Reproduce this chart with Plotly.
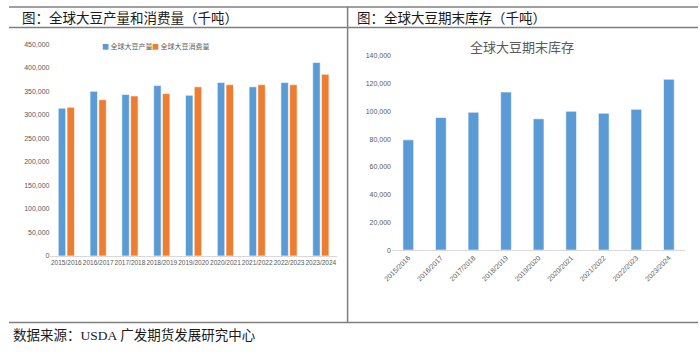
import plotly.graph_objects as go

# ---------------- data ----------------
seasons = ["2015/2016", "2016/2017", "2017/2018", "2018/2019", "2019/2020",
           "2020/2021", "2021/2022", "2022/2023", "2023/2024"]
production = [314000, 350000, 343000, 362000, 341500, 368500, 359500, 368500, 411000]
consumption = [316000, 332000, 340000, 345000, 359500, 364000, 364000, 364000, 386000]
ending_stocks = [79500, 95600, 99400, 114000, 94700, 100100, 98700, 101500, 123200]

left_ticks = list(range(0, 450001, 50000))
right_ticks = list(range(0, 140001, 20000))

BLUE = "#5B9BD5"
ORANGE = "#ED7D31"
GRAY_TXT = "#595959"
AXIS = "#D9D9D9"
W, H = 700, 356

def px(x):
    return x / W

def py(y):
    return 1 - y / H

fig = go.Figure()

fig.add_trace(go.Bar(
    x=seasons, y=production, name="全球大豆产量",
    marker=dict(color=BLUE, line=dict(color="rgba(255,255,255,0.6)", width=1)),
    offset=-0.255, width=0.235, xaxis="x", yaxis="y", showlegend=False))
fig.add_trace(go.Bar(
    x=seasons, y=consumption, name="全球大豆消费量",
    marker=dict(color=ORANGE, line=dict(color="rgba(255,255,255,0.6)", width=1)),
    offset=0.02, width=0.235, xaxis="x", yaxis="y", showlegend=False))
fig.add_trace(go.Bar(
    x=seasons, y=ending_stocks, name="全球大豆期末库存",
    marker=dict(color=BLUE, line=dict(color="rgba(255,255,255,0.6)", width=1)),
    width=0.33, xaxis="x2", yaxis="y2", showlegend=False))

tickfont = dict(family="Liberation Sans, Arial, sans-serif", size=7, color=GRAY_TXT)

fig.update_layout(
    width=W, height=H,
    margin=dict(l=0, r=0, t=0, b=0),
    paper_bgcolor="white", plot_bgcolor="white",
    barmode="overlay",
    xaxis=dict(domain=[px(42), px(332)], anchor="y", type="category",
               showline=True, linecolor=AXIS, linewidth=1, ticks="",
               showgrid=False, tickfont=dict(tickfont, size=6.5), tickangle=0),
    yaxis=dict(domain=[py(257), py(41)], anchor="x", range=[0, 450000],
               tickvals=left_ticks, tickformat=",d", showgrid=False,
               zeroline=False, showline=False, ticks="", tickfont=tickfont),
    xaxis2=dict(domain=[px(388), px(685)], anchor="y2", type="category",
                showline=True, linecolor=AXIS, linewidth=1, ticks="",
                showgrid=False, tickfont=tickfont, tickangle=-45),
    yaxis2=dict(domain=[py(251), py(53)], anchor="x2", range=[0, 140000],
                tickvals=right_ticks, tickformat=",d", showgrid=False,
                zeroline=False, showline=False, ticks="", tickfont=tickfont),
    font=dict(family="Noto Sans CJK SC, sans-serif"),
)

line_style = dict(color="#7F7F7F", width=1.5)
shapes = [
    dict(type="line", xref="paper", yref="paper", x0=0, x1=px(698), y0=py(3), y1=py(3), line=line_style),
    dict(type="line", xref="paper", yref="paper", x0=0, x1=px(698), y0=py(24), y1=py(24), line=line_style),
    dict(type="line", xref="paper", yref="paper", x0=0, x1=px(698), y0=py(325), y1=py(325), line=line_style),
    dict(type="line", xref="paper", yref="paper", x0=px(343), x1=px(343), y0=py(3), y1=py(325), line=line_style),
]
fig.update_layout(shapes=shapes)

hdr_font = dict(family="Noto Sans CJK SC, sans-serif", size=13.5, color="#1a1a1a")
annotations = [
    dict(text="图：全球大豆产量和消费量（千吨）", x=px(11), y=py(13.5), xref="paper", yref="paper",
         xanchor="left", yanchor="middle", showarrow=False, font=hdr_font),
    dict(text="图：全球大豆期末库存（千吨）", x=px(351), y=py(13.5), xref="paper", yref="paper",
         xanchor="left", yanchor="middle", showarrow=False, font=hdr_font),
    dict(text="数据来源：<span style='font-family:Liberation Serif'>USDA</span> 广发期货发展研究中心",
         x=px(2), y=py(337), xref="paper", yref="paper",
         xanchor="left", yanchor="middle", showarrow=False, font=hdr_font),
    dict(text="全球大豆期末库存", x=px(520), y=py(43), xref="paper", yref="paper",
         xanchor="center", yanchor="middle", showarrow=False,
         font=dict(family="Noto Sans CJK SC, sans-serif", size=13, color=GRAY_TXT)),
    dict(text=f"<span style='color:{BLUE}'>■</span> 全球大豆产量", x=px(92), y=py(43),
         xref="paper", yref="paper", xanchor="left", yanchor="middle", showarrow=False,
         font=dict(family="Noto Sans CJK SC, sans-serif", size=7, color=GRAY_TXT)),
    dict(text=f"<span style='color:{ORANGE}'>■</span> 全球大豆消费量", x=px(143), y=py(43),
         xref="paper", yref="paper", xanchor="left", yanchor="middle", showarrow=False,
         font=dict(family="Noto Sans CJK SC, sans-serif", size=7, color=GRAY_TXT)),
]
fig.update_layout(annotations=annotations)

fig.write_html("out.html",
               config={"displayModeBar": False},
               post_script="document.body.style.margin='0';document.body.style.padding='0';")
